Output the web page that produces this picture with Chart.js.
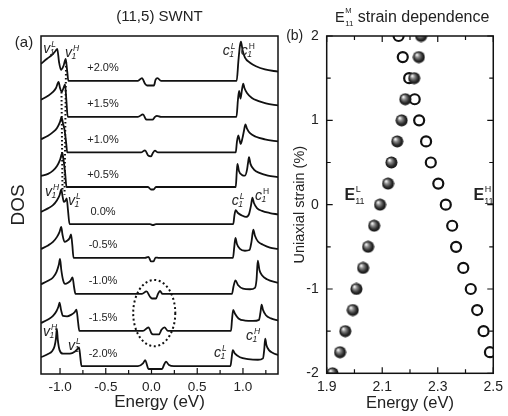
<!DOCTYPE html>
<html>
<head>
<meta charset="utf-8">
<script src="https://cdn.jsdelivr.net/npm/chart.js@4.4.1/dist/chart.umd.min.js"></script>
<style>
  html, body { margin: 0; padding: 0; background: #fff; }
  #wrap { position: relative; width: 508px; height: 416px; }
  #dosChart { position: absolute; left: 0; top: 0; width: 285px; height: 416px; }
  #strainChart { position: absolute; left: 285px; top: 0; width: 223px; height: 416px; }
</style>
</head>
<body>
<div id="wrap">
  <canvas id="dosChart" width="285" height="416"></canvas>
  <canvas id="strainChart" width="223" height="416"></canvas>
</div>
<script>
// ---- panel (a): DOS traces, [energy eV, DOS a.u. above the trace baseline] ----
const strainLabels = ['+2.0%', '+1.5%', '+1.0%', '+0.5%', '0.0%', '-0.5%', '-1.0%', '-1.5%', '-2.0%'];
const traceOffsets = [8.23, 7.22, 6.22, 5.25, 4.21, 3.26, 2.25, 1.21, 0.22];

const dosP20 = [[-1.208,0.48],[-1.142,0.62],[-1.087,0.73],[-1.049,0.84],[-1.030,0.90],[-1.011,0.53],[-0.989,0.31],[-0.962,0.42],[-0.938,0.62],[-0.923,0.31],[-0.909,0],[-0.148,0],[-0.104,0.08],[-0.071,-0.08],[-0.049,-0.13],[0.027,-0.13],[0.044,0.03],[0.066,0.08],[0.104,0],[0.931,0],[0.951,0.59],[0.967,0.98],[0.978,1.10],[0.995,0.87],[1.022,0.65],[1.077,0.51],[1.142,0.41],[1.240,0.32],[1.383,0.26]];
const dosP15 = [[-1.208,0.48],[-1.131,0.59],[-1.077,0.70],[-1.044,0.81],[-1.016,0.98],[-1.000,0.81],[-0.981,0.70],[-0.962,0.81],[-0.945,0.91],[-0.931,0.48],[-0.916,0],[-0.148,0],[-0.093,0.07],[-0.060,-0.07],[-0.038,-0.08],[0.011,-0.08],[0.038,0],[0.060,0.03],[0.104,0],[0.929,0],[0.945,0.48],[0.958,0.73],[0.973,0.51],[0.989,0.76],[1.003,0.93],[1.016,0.81],[1.044,0.67],[1.098,0.53],[1.164,0.45],[1.251,0.38],[1.383,0.32]];
const dosP10 = [[-1.208,0.37],[-1.131,0.47],[-1.077,0.57],[-1.033,0.69],[-1.000,0.86],[-0.984,0.99],[-0.967,0.81],[-0.951,0.64],[-0.934,0.30],[-0.921,0],[-0.115,0],[-0.071,0.06],[-0.038,-0.08],[-0.005,-0.11],[0.016,-0.01],[0.038,0.05],[0.071,0],[0.921,0],[0.934,0.30],[0.949,0.48],[0.960,0.38],[0.975,0.24],[0.995,0.41],[1.011,0.61],[1.027,0.79],[1.044,0.67],[1.077,0.54],[1.142,0.44],[1.240,0.37],[1.383,0.31]];
const dosP05 = [[-1.208,0.31],[-1.131,0.37],[-1.077,0.46],[-1.033,0.59],[-1.000,0.76],[-0.975,0.96],[-0.962,0.76],[-0.945,0.42],[-0.929,0],[-0.038,0],[-0.005,-0.07],[0.022,-0.07],[0.049,0],[0.921,0],[0.932,0.42],[0.940,0.65],[0.956,0.45],[0.989,0.34],[1.022,0.32],[1.044,0.48],[1.055,0.67],[1.066,0.84],[1.082,0.65],[1.120,0.49],[1.186,0.39],[1.273,0.32],[1.383,0.28]];
const dosP00 = [[-1.208,0.34],[-1.131,0.44],[-1.077,0.53],[-1.033,0.67],[-1.005,0.81],[-0.986,0.97],[-0.973,0.79],[-0.958,0.62],[-0.942,0.65],[-0.927,0.72],[-0.913,0.39],[-0.896,0],[-0.016,0],[0.016,-0.03],[0.049,0],[0.894,0],[0.907,0.25],[0.920,0.39],[0.945,0.31],[0.989,0.24],[1.033,0.20],[1.066,0.28],[1.087,0.51],[1.104,0.74],[1.120,0.59],[1.153,0.45],[1.208,0.37],[1.295,0.31],[1.383,0.27]];
const dosM05 = [[-1.208,0.25],[-1.131,0.35],[-1.077,0.45],[-1.033,0.59],[-1.005,0.73],[-0.987,0.87],[-0.973,0.65],[-0.951,0.45],[-0.923,0.48],[-0.896,0.55],[-0.880,0.66],[-0.866,0.37],[-0.852,0],[-0.071,0],[-0.033,0.03],[-0.005,-0.10],[0.022,-0.10],[0.044,0.01],[0.082,0],[0.891,0],[0.905,0.31],[0.918,0.56],[0.934,0.39],[0.967,0.25],[1.022,0.20],[1.071,0.22],[1.093,0.45],[1.113,0.79],[1.131,0.62],[1.164,0.46],[1.219,0.37],[1.295,0.29],[1.383,0.25]];
const dosM10 = [[-1.208,0.27],[-1.131,0.37],[-1.077,0.46],[-1.038,0.62],[-1.014,0.81],[-1.000,0.98],[-0.986,0.67],[-0.967,0.39],[-0.945,0.28],[-0.913,0.31],[-0.885,0.37],[-0.863,0.46],[-0.847,0.20],[-0.831,0],[-0.104,0],[-0.055,0.07],[-0.016,-0.08],[0.005,-0.13],[0.049,-0.13],[0.071,0],[0.093,0.08],[0.120,0],[0.880,0],[0.896,0.20],[0.918,0.38],[0.945,0.25],[1.000,0.15],[1.077,0.13],[1.131,0.17],[1.148,0.39],[1.162,0.93],[1.180,0.67],[1.208,0.52],[1.262,0.41],[1.383,0.31]];
const dosM15 = [[-1.208,0.22],[-1.131,0.32],[-1.077,0.42],[-1.038,0.56],[-1.019,0.67],[-1.005,0.79],[-0.989,0.59],[-0.967,0.42],[-0.923,0.41],[-0.880,0.45],[-0.842,0.52],[-0.820,0.60],[-0.803,0.25],[-0.789,0],[-0.093,0],[-0.033,0.10],[0,-0.07],[0.016,-0.10],[0.082,-0.10],[0.109,0.03],[0.142,0.10],[0.180,0],[0.869,0],[0.880,0.31],[0.893,0.59],[0.913,0.48],[0.951,0.35],[1.022,0.29],[1.109,0.28],[1.175,0.31],[1.191,0.51],[1.204,0.74],[1.219,0.59],[1.251,0.44],[1.306,0.35],[1.383,0.29]];
const dosM20 = [[-1.208,0.25],[-1.131,0.34],[-1.087,0.42],[-1.060,0.56],[-1.044,0.79],[-1.035,1.05],[-1.024,0.73],[-1.005,0.45],[-0.967,0.35],[-0.891,0.35],[-0.836,0.41],[-0.809,0.48],[-0.792,0.53],[-0.778,0.25],[-0.765,0],[-0.148,0],[-0.093,0.08],[-0.068,0.17],[-0.049,0.03],[-0.033,-0.08],[0.115,-0.08],[0.137,0.04],[0.158,0.13],[0.191,0.03],[0.246,0],[0.863,0],[0.877,0.25],[0.889,0.45],[0.913,0.35],[0.967,0.25],[1.055,0.20],[1.164,0.18],[1.219,0.22],[1.232,0.45],[1.243,0.77],[1.257,0.59],[1.284,0.45],[1.328,0.37],[1.383,0.31]];

// dotted guides following the v1 peaks (energy, absolute DOS)
const peakTrackA = [[-0.934, 8.76], [-0.951, 5.03]];
const peakTrackB = [[-0.984, 7.92], [-0.973, 5.17]];

const energyTicks = [-1.0, -0.5, 0.0, 0.5, 1.0];

// ---- panel (b): E11 energies vs strain ----
const strainValues = [-2.0, -1.75, -1.5, -1.25, -1.0, -0.75, -0.5, -0.25, 0.0, 0.25, 0.5, 0.75, 1.0, 1.25, 1.5, 1.75, 2.0];
const e11Low  = [1.921, 1.948, 1.967, 1.994, 2.007, 2.031, 2.049, 2.071, 2.092, 2.121, 2.133, 2.154, 2.170, 2.183, 2.215, 2.232, 2.240];
const e11High = [null, 2.488, 2.465, 2.442, 2.419, 2.392, 2.366, 2.352, 2.329, 2.302, 2.275, 2.258, 2.233, 2.217, 2.197, 2.174, 2.159];
const e11Ticks = [1.9, 2.1, 2.3, 2.5];
const strainTicks = [-2, -1, 0, 1, 2];

const FONT = '"Liberation Sans", Arial, Helvetica, sans-serif';
const INK = '#222';
Chart.defaults.font.family = FONT;
Chart.defaults.color = INK;

// band edge labels of panel (a), placed in data coordinates
const bandLabels = [
  { e: -1.183, d: 9.01, base: 'v', sup: 'L', sub: '1' },
  { e: -0.945, d: 8.90, base: 'v', sup: 'H', sub: '1' },
  { e: 0.778, d: 8.96, base: 'c', sup: 'L', sub: '1' },
  { e: 0.975, d: 8.96, base: 'c', sup: 'H', sub: '1', upright: true },
  { e: -1.164, d: 5.00, base: 'v', sup: 'H', sub: '1' },
  { e: -0.913, d: 4.75, base: 'v', sup: 'L', sub: '1' },
  { e: 0.877, d: 4.75, base: 'c', sup: 'L', sub: '1' },
  { e: 1.131, d: 4.89, base: 'c', sup: 'H', sub: '1', upright: true },
  { e: -1.186, d: 1.07, base: 'v', sup: 'H', sub: '1' },
  { e: -0.913, d: 0.67, base: 'v', sup: 'L', sub: '1' },
  { e: 0.683, d: 0.48, base: 'c', sup: 'L', sub: '1' },
  { e: 1.033, d: 0.96, base: 'c', sup: 'H', sub: '1' }
];

function drawIndexed(ctx, px, py, base, sup, sub, o) {
  ctx.textAlign = 'left';
  ctx.textBaseline = 'alphabetic';
  ctx.font = o.baseFont;
  ctx.fillText(base, px, py);
  const w = ctx.measureText(base).width;
  ctx.font = o.supFont;
  ctx.fillText(sup, px + w + o.supDx, py - o.rise);
  ctx.font = o.subFont;
  ctx.fillText(sub, px + w + o.subDx, py + o.drop);
}

function withMinor(majors, min, max, majLen, minLen) {
  const step = majors[1] - majors[0];
  const out = majors.map(v => [v, majLen]);
  for (let i = -1; i < majors.length; i++) {
    const m = majors[0] + (i + 0.5) * step;
    if (m > min && m < max) out.push([m, minLen]);
  }
  return out;
}

function frameAndTicks(chart, xt, yt, mirror) {
  const { ctx, chartArea: a, scales } = chart;
  ctx.save();
  ctx.strokeStyle = '#111';
  ctx.lineWidth = 1.2;
  ctx.beginPath();
  xt.forEach(([v, len]) => {
    const p = scales.x.getPixelForValue(v);
    ctx.moveTo(p, a.bottom); ctx.lineTo(p, a.bottom - len);
    if (mirror) { ctx.moveTo(p, a.top); ctx.lineTo(p, a.top + len); }
  });
  yt.forEach(([v, len]) => {
    const p = scales.y.getPixelForValue(v);
    ctx.moveTo(a.left, p); ctx.lineTo(a.left + len, p);
    if (mirror) { ctx.moveTo(a.right, p); ctx.lineTo(a.right - len, p); }
  });
  ctx.stroke();
  ctx.lineWidth = 1.5;
  ctx.strokeRect(a.left, a.top, a.right - a.left, a.bottom - a.top);
  ctx.restore();
}

const dosDecor = {
  id: 'dosDecor',
  afterDraw(chart) {
    const { ctx, chartArea: a, scales: { x, y } } = chart;
    ctx.save();
    ctx.fillStyle = INK;
    ctx.strokeStyle = '#111';

    // dotted ellipse round the gap features
    ctx.setLineDash([2, 2.6]);
    ctx.lineWidth = 2;
    ctx.beginPath();
    const cx = x.getPixelForValue(0.03), cy = y.getPixelForValue(1.71);
    ctx.ellipse(cx, cy, x.getPixelForValue(0.26) - cx, cy - y.getPixelForValue(2.64), 0, 0, Math.PI * 2);
    ctx.stroke();
    ctx.setLineDash([]);

    // strain labels
    ctx.font = '11px ' + FONT;
    ctx.textAlign = 'center';
    ctx.textBaseline = 'middle';
    strainLabels.forEach((s, i) => {
      ctx.fillText(s, x.getPixelForValue(-0.53), y.getPixelForValue(traceOffsets[i] + 0.35));
    });

    // v1 / c1 labels
    bandLabels.forEach(l => {
      drawIndexed(ctx, x.getPixelForValue(l.e), y.getPixelForValue(l.d), l.base, l.sup, l.sub, {
        baseFont: 'italic 14px ' + FONT,
        supFont: (l.upright ? '' : 'italic ') + '8.5px ' + FONT,
        subFont: 'italic 8.5px ' + FONT,
        supDx: 1, subDx: -0.5, rise: 6, drop: 2
      });
    });

    // title and panel letter
    ctx.textAlign = 'center';
    ctx.textBaseline = 'middle';
    ctx.font = '15px ' + FONT;
    ctx.fillText('(11,5) SWNT', (a.left + a.right) / 2, 17);
    ctx.fillText('(a)', a.left - 17, a.top + 7);
    ctx.restore();

    frameAndTicks(chart, withMinor(energyTicks, x.min, x.max, 6, 4), [], false);
  }
};

const strainDecor = {
  id: 'strainDecor',
  afterDraw(chart) {
    const { ctx, chartArea: a, scales: { x, y } } = chart;
    frameAndTicks(chart,
      withMinor(e11Ticks, x.min, x.max, 6, 4),
      withMinor(strainTicks, y.min, y.max, 6, 4), true);
    ctx.save();
    ctx.fillStyle = INK;
    // title E11^M strain dependence
    drawIndexed(ctx, a.left + 8.3, 22, 'E', 'M', '11', {
      baseFont: '14.5px ' + FONT, supFont: '7.5px ' + FONT, subFont: '8px ' + FONT,
      supDx: 0.5, subDx: 0.5, rise: 9, drop: 4
    });
    ctx.textAlign = 'left';
    ctx.font = '16px ' + FONT;
    ctx.fillText('strain dependence', a.left + 31, 22);
    ctx.textAlign = 'center';
    ctx.textBaseline = 'middle';
    ctx.font = '14px ' + FONT;
    ctx.fillText('(b)', a.left - 32, a.top);
    // branch labels
    const labOpt = { baseFont: 'bold 16px ' + FONT, supFont: '9px ' + FONT, subFont: '9px ' + FONT,
                     supDx: 0.5, subDx: 0, rise: 8, drop: 4 };
    drawIndexed(ctx, x.getPixelForValue(1.964), y.getPixelForValue(0.055), 'E', 'L', '11', labOpt);
    drawIndexed(ctx, x.getPixelForValue(2.429), y.getPixelForValue(0.055), 'E', 'H', '11', labOpt);
    ctx.restore();
  }
};

const traces = [dosP20, dosP15, dosP10, dosP05, dosP00, dosM05, dosM10, dosM15, dosM20];
const traceSets = traces.map((t, i) => ({
  data: t.map(([e, d]) => ({ x: e, y: d + traceOffsets[i] })),
  borderColor: '#111',
  borderWidth: 1.8,
  cubicInterpolationMode: 'monotone',
  pointRadius: 0,
  clip: 0
}));
const dotSets = [peakTrackA, peakTrackB].map(t => ({
  data: t.map(([e, d]) => ({ x: e, y: d })),
  borderColor: '#111',
  borderWidth: 2,
  borderDash: [1.6, 2.4],
  pointRadius: 0,
  clip: 0
}));

new Chart(document.getElementById('dosChart'), {
  type: 'line',
  data: { datasets: [...traceSets, ...dotSets] },
  options: {
    responsive: false,
    animation: false,
    events: [],
    layout: { padding: { left: 0, right: 7, top: 36, bottom: 0 } },
    plugins: { legend: { display: false }, tooltip: { enabled: false } },
    scales: {
      x: {
        type: 'linear', min: -1.208, max: 1.383,
        afterBuildTicks: s => { s.ticks = energyTicks.map(v => ({ value: v })); },
        afterFit: s => { s.height = 42; },
        grid: { display: false, drawTicks: false },
        border: { display: false },
        ticks: { padding: 5, color: INK, font: { size: 13.5 }, maxRotation: 0, autoSkip: false,
                 callback: v => Number(v).toFixed(1) },
        title: { display: true, text: 'Energy (eV)', color: INK, font: { size: 17 }, padding: { top: 0, bottom: 3 } }
      },
      y: {
        type: 'linear', min: 0, max: 9.49,
        afterFit: s => { s.width = 41; },
        grid: { display: false, drawTicks: false },
        border: { display: false },
        ticks: { display: false },
        title: { display: true, text: 'DOS', color: INK, font: { size: 19 }, padding: { top: 7, bottom: 0 } }
      }
    }
  },
  plugins: [dosDecor]
});

// shaded ball marker for the E11^L branch
function makeBall(r) {
  const c = document.createElement('canvas');
  const s = Math.ceil(r * 2) + 1;
  c.width = c.height = s;
  const g = c.getContext('2d');
  const m = s / 2;
  const grad = g.createRadialGradient(m - r * 0.35, m - r * 0.4, r * 0.08, m, m, r);
  grad.addColorStop(0, '#f4f4f4');
  grad.addColorStop(0.3, '#8a8a8a');
  grad.addColorStop(0.7, '#2e2e2e');
  grad.addColorStop(1, '#0e0e0e');
  g.fillStyle = grad;
  g.beginPath();
  g.arc(m, m, r, 0, Math.PI * 2);
  g.fill();
  return c;
}

new Chart(document.getElementById('strainChart'), {
  type: 'scatter',
  data: {
    datasets: [
      {
        data: strainValues.map((s, i) => ({ x: e11Low[i], y: s })),
        pointStyle: makeBall(6),
        pointRadius: 6,
        clip: 0
      },
      {
        data: strainValues.map((s, i) => ({ x: e11High[i], y: s })).filter(p => p.x !== null),
        pointStyle: 'circle',
        pointRadius: 5,
        borderWidth: 2.2,
        borderColor: '#111',
        backgroundColor: '#fff',
        clip: 0
      }
    ]
  },
  options: {
    responsive: false,
    animation: false,
    events: [],
    layout: { padding: { left: 0, right: 9.7, top: 36, bottom: 0 } },
    plugins: { legend: { display: false }, tooltip: { enabled: false } },
    scales: {
      x: {
        type: 'linear', min: 1.9, max: 2.5,
        afterBuildTicks: s => { s.ticks = e11Ticks.map(v => ({ value: v })); },
        afterFit: s => { s.height = 42.7; },
        grid: { display: false, drawTicks: false },
        border: { display: false },
        ticks: { padding: 5, color: INK, font: { size: 14 }, maxRotation: 0, autoSkip: false,
                 callback: v => Number(v).toFixed(1) },
        title: { display: true, text: 'Energy (eV)', color: INK, font: { size: 16.5 }, padding: { top: 0, bottom: 3 } }
      },
      y: {
        type: 'linear', min: -2, max: 2,
        afterBuildTicks: s => { s.ticks = strainTicks.map(v => ({ value: v })); },
        afterFit: s => { s.width = 41.7; },
        grid: { display: false, drawTicks: false },
        border: { display: false },
        ticks: { padding: 8, color: INK, font: { size: 14 }, autoSkip: false,
                 callback: v => String(v) },
        title: { display: true, text: 'Uniaxial strain (%)', color: INK, font: { size: 14.5 }, padding: { top: 6.3, bottom: 0 } }
      }
    }
  },
  plugins: [strainDecor]
});
</script>
</body>
</html>
